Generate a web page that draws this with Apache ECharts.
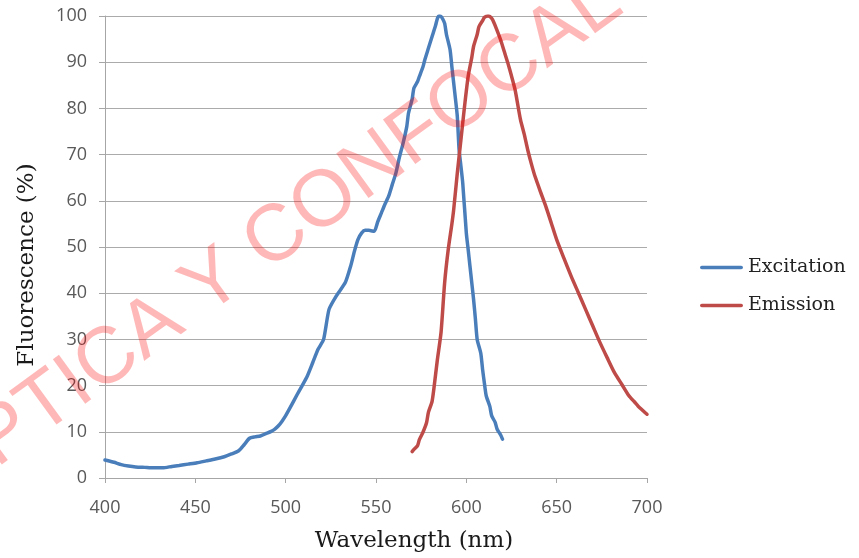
<!DOCTYPE html>
<html>
<head>
<meta charset="utf-8">
<script src="https://cdn.jsdelivr.net/npm/echarts@6/dist/echarts.min.js"></script>
<style>html,body{margin:0;padding:0;background:#fff}#c{width:859px;height:558px}</style>
</head>
<body>
<div id="c"></div>
<script>
// ---- data ----
const excitationX = [400,405,409,413,417,422,427,432,437,441,446,451,456,461,466,470,474,477,480,483,486,489,492,494,496,498,500,503,506,509,512,515,518,521,524,528,533,536,538,540,542,544,546,549,551,553,555,557,559,561,563,565,567,568,570,571,573,574,576,577,579,581,583,584,585,586,587,588,589,591,592,593,594,595,596,597,598,600,601,602,603,604,605,606,608,609,610,611,613,614,616,617,619,620];
const excitationY = [3.9,3.4,2.9,2.6,2.4,2.3,2.2,2.2,2.5,2.7,3.0,3.3,3.7,4.1,4.6,5.2,5.9,7.2,8.6,8.9,9.1,9.6,10.1,10.6,11.3,12.3,13.5,15.6,17.8,19.9,22.1,25.0,27.9,30.0,36.5,39.4,42.3,45.9,49.0,51.6,53.0,53.6,53.6,53.4,55.5,57.4,59.3,61.0,63.5,66.0,69.5,72.5,76.0,79.0,82.0,84.4,85.8,86.9,89.0,90.5,93.0,95.5,98.0,99.5,100,99.9,99.3,98.4,96.0,92.7,89.0,85.5,82.0,78.3,71.0,67.5,63.9,53.0,49.5,45.9,42.3,38.7,34.5,30.0,27.0,23.5,20.5,17.8,15.5,13.5,12.0,10.6,9.3,8.4];
const emissionX = [570,571,573,574,576,578,579,581,582,584,586,588,590,592,593,595,597,599,601,603,604,606,607,609,610,612,613,614,615,617,619,621,623,625,627,630,632,634,636,638,641,644,647,650,654,658,662,666,670,674,678,682,686,690,693,695,698,700];
const emissionY = [5.7,6.2,7.0,8.3,9.9,12.0,14.2,16.5,19.2,25.7,31.5,42.3,49.5,55.0,58.1,66.0,73.2,80.4,86.9,91.0,93.4,96.0,97.7,99.0,99.7,100,99.9,99.5,98.8,96.9,94.8,92.3,89.8,87.0,84.0,77.5,74.5,71.0,68.0,65.3,62.0,58.8,55.2,51.6,47.6,43.7,40.1,36.5,32.9,29.3,26.0,22.8,20.3,17.8,16.5,15.6,14.5,13.8];
const xTicks = [400,450,500,550,600,650,700];
const yTicks = [0,10,20,30,40,50,60,70,80,90,100];
const seriesNames = ['Excitation','Emission'];
const xTitle = 'Wavelength (nm)';
const yTitle = 'Fluorescence (%)';
const watermark = 'ÓPTICA Y CONFOCAL';

const zip = (xs, ys) => xs.map((x, i) => [x, ys[i]]);

const chart = echarts.init(document.getElementById('c'), null, {renderer: 'canvas'});
const serif = '"DejaVu Serif", serif';
const sans = '"Open Sans", sans-serif';
const lineIcon = 'path://M1.75,0 L40.25,0 A1.75,1.75 0 0 1 40.25,3.5 L1.75,3.5 A1.75,1.75 0 0 1 1.75,0 Z';
chart.setOption({
  animation: false,
  backgroundColor: '#ffffff',
  grid: {left: 105, right: 212, top: 16, bottom: 80, containLabel: false},
  legend: {
    orient: 'vertical', left: 695, top: 253,
    itemWidth: 43, itemHeight: 18, itemGap: 19, symbolKeepAspect: true,
    textStyle: {fontFamily: serif, fontSize: 19, color: '#222'},
    data: seriesNames.map(n => ({name: n, icon: lineIcon}))
  },
  xAxis: {
    type: 'value', min: xTicks[0], max: xTicks[xTicks.length - 1], interval: 50,
    name: xTitle, nameLocation: 'middle', nameGap: 52,
    nameTextStyle: {fontFamily: serif, fontSize: 23, color: '#1a1a1a', padding: [0, 0, 0, 76]},
    axisLine: {show: true, lineStyle: {color: '#a6a6a6', width: 1}},
    axisTick: {show: true, inside: false, length: 5, lineStyle: {color: '#a6a6a6'}},
    axisLabel: {fontFamily: sans, fontSize: 18, color: '#595959', margin: 21},
    splitLine: {show: false}
  },
  yAxis: {
    type: 'value', min: yTicks[0], max: yTicks[yTicks.length - 1], interval: 10,
    name: yTitle, nameLocation: 'middle', nameGap: 66, nameRotate: 90,
    nameTextStyle: {fontFamily: serif, fontSize: 23, color: '#1a1a1a', padding: [0, 36, 0, 0]},
    axisLine: {show: true, lineStyle: {color: '#a6a6a6', width: 1}},
    axisTick: {show: true, inside: false, length: 6, lineStyle: {color: '#a6a6a6'}},
    axisLabel: {fontFamily: sans, fontSize: 18, color: '#595959', margin: 18},
    splitLine: {show: true, lineStyle: {color: '#ababab', width: 1}}
  },
  series: [
    {name: seriesNames[0], type: 'line', symbol: 'none', smooth: 0.2,
     data: zip(excitationX, excitationY),
     itemStyle: {color: '#4a7ebb'}, lineStyle: {color: '#4a7ebb', width: 3.5, cap: 'round', join: 'round'}},
    {name: seriesNames[1], type: 'line', symbol: 'none', smooth: 0.2,
     data: zip(emissionX, emissionY),
     itemStyle: {color: '#be4b48'}, lineStyle: {color: '#be4b48', width: 3.5, cap: 'round', join: 'round'}}
  ],
  graphic: [{
    type: 'text', x: 273, y: 240, rotation: 36 * Math.PI / 180, z: 100, silent: true,
    style: {text: watermark, fontFamily: '"Liberation Sans", Arial, sans-serif', fontSize: 80,
            fill: 'rgba(255,0,0,0.28)', align: 'center', verticalAlign: 'middle'}
  }]
});
</script>
</body>
</html>
